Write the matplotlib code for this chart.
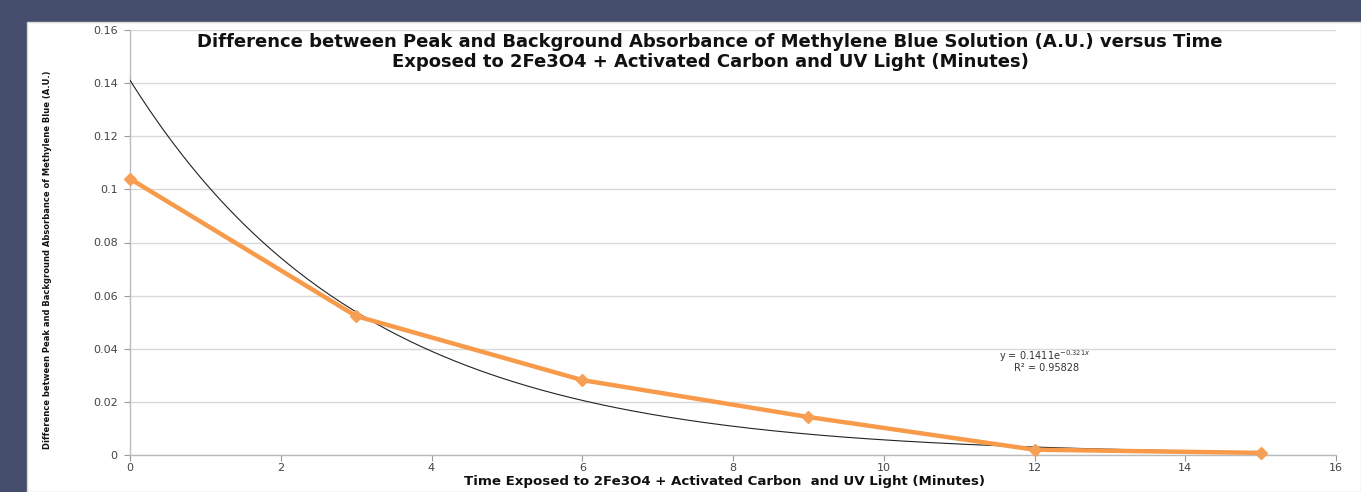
import numpy as np
import matplotlib
matplotlib.use("Agg")
import matplotlib.pyplot as plt
from matplotlib.patches import Rectangle

# Data
time_min = [0, 3, 6, 9, 12, 15]
absorbance = [0.104, 0.0523, 0.0282, 0.0143, 0.0020, 0.0008]
fit_a = 0.1411
fit_b = -0.321
r_squared = 0.95828
x_ticks = [0, 2, 4, 6, 8, 10, 12, 14, 16]
y_ticks = [0, 0.02, 0.04, 0.06, 0.08, 0.1, 0.12, 0.14, 0.16]
y_tick_labels = ["0", "0.02", "0.04", "0.06", "0.08", "0.1", "0.12", "0.14", "0.16"]

W, H = 1361, 492
fig = plt.figure(figsize=(W / 100, H / 100), dpi=100)
fig.patch.set_facecolor("#444E6C")
panel = Rectangle((27 / W, 0), 1 - 27 / W, 1 - 22 / H, transform=fig.transFigure,
                  facecolor="white", edgecolor="#d8d8d8", lw=1, zorder=-10)
fig.add_artist(panel)

ax = fig.add_axes([130 / W, (H - 455) / H, (1336 - 130) / W, (455 - 30) / H])
ax.set_zorder(5)
ax.set_facecolor("none")
ax.set_xlim(0, 16)
ax.set_ylim(0, 0.16)
ax.set_xticks(x_ticks)
ax.set_yticks(y_ticks)
ax.set_yticklabels(y_tick_labels)
ax.tick_params(axis="both", labelsize=8, colors="#999999", labelcolor="#444444", length=4, width=0.8)
ax.tick_params(axis="x", pad=2)
ax.tick_params(axis="y", pad=5)
ax.yaxis.grid(True, color="#d9d9d9", lw=1)
ax.set_axisbelow(True)
for s in ["top", "right"]:
    ax.spines[s].set_visible(False)
for s in ["left", "bottom"]:
    ax.spines[s].set_color("#bbbbbb")
    ax.spines[s].set_linewidth(1)

xs = np.linspace(time_min[0], time_min[-1], 300)
ax.plot(xs, fit_a * np.exp(fit_b * xs), color="#222222", lw=0.8, zorder=3)
ax.plot(time_min, absorbance, color="#F79A4A", lw=3.2, marker="D", markersize=6.5,
        markerfacecolor="#F7A055", markeredgecolor="#F7A055", zorder=4, clip_on=False)

fig.text(1045 / W, (H - 356) / H, "y = 0.1411e$^{-0.321x}$",
         fontsize=7, color="#333333", ha="center", va="center")
fig.text(1047 / W, (H - 368) / H, "R² = %.5f" % r_squared,
         fontsize=7, color="#333333", ha="center", va="center")

fig.text(710 / W, (H - 52) / H,
         "Difference between Peak and Background Absorbance of Methylene Blue Solution (A.U.) versus Time\n"
         "Exposed to 2Fe3O4 + Activated Carbon and UV Light (Minutes)",
         ha="center", va="center", fontsize=13, fontweight="bold", color="#111111",
         linespacing=1.1, family="DejaVu Sans")
fig.text(725 / W, (H - 481) / H,
         "Time Exposed to 2Fe3O4 + Activated Carbon  and UV Light (Minutes)",
         ha="center", va="center", fontsize=9.6, fontweight="bold", color="#111111")
fig.text(48 / W, (H - 260) / H,
         "Difference between Peak and Background Absorbance of Methylene Blue (A.U.)",
         ha="center", va="center", rotation=90, fontsize=6.0, fontweight="bold",
         color="#111111")

fig.savefig("out.png", dpi=100, facecolor=fig.get_facecolor())
